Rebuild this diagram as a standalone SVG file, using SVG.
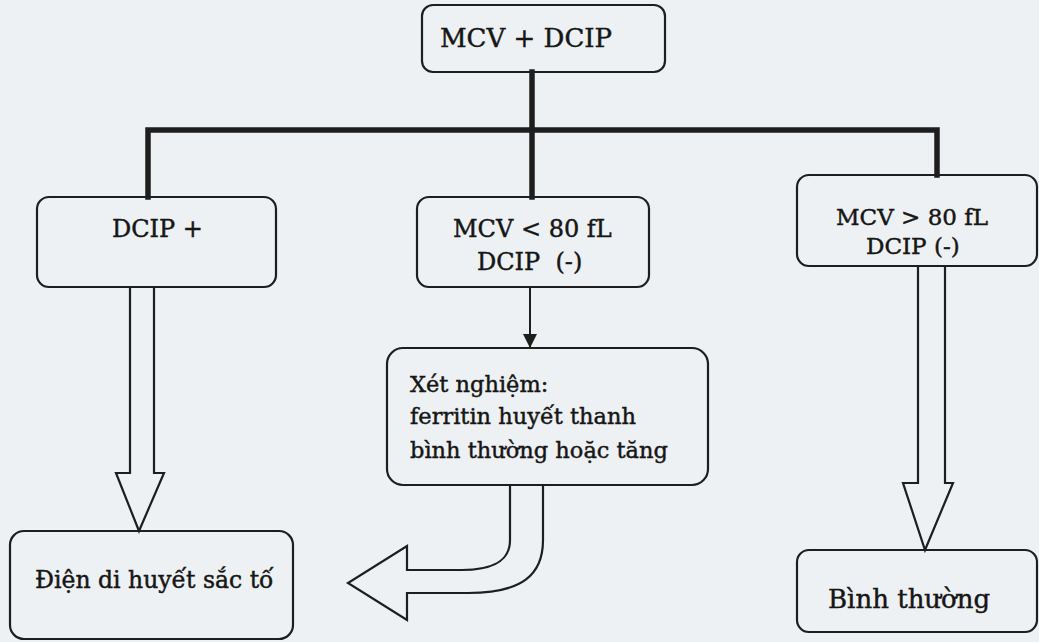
<svg xmlns="http://www.w3.org/2000/svg" width="1039" height="642" viewBox="0 0 1039 642">
<style>
.box{fill:none;stroke:#1e1e1e;stroke-width:2.2}
.t{font-family:"DejaVu Serif","Liberation Serif",serif;fill:#161616;stroke:#161616;stroke-width:0.45;white-space:pre}
.thick{fill:none;stroke:#1e1e1e;stroke-width:5.5;stroke-linecap:square}
.thin{fill:none;stroke:#1e1e1e;stroke-width:2}
.hollow{fill:none;stroke:#1e1e1e;stroke-width:2.2;stroke-linejoin:miter}
</style>
<defs>
<marker id="ah" viewBox="0 0 14 14" refX="14" refY="7" markerWidth="14" markerHeight="14" markerUnits="userSpaceOnUse" orient="auto">
<path d="M0,0 L14,7 L0,14 Z" fill="#1e1e1e"/>
</marker>
</defs>
<rect width="1039" height="642" fill="#eef1f3"/>

<g id="connectors">
<path class="thick" d="M532,72 V197"/>
<path class="thick" d="M148,197 V130 H937 V175"/>
<path class="thin" d="M530,287 V348" marker-end="url(#ah)"/>
<path class="hollow" d="M130,287 V473 H116 L139,531 L164,473 H154 V287"/>
<path class="hollow" d="M918,266 V483 H903 L925,550 L953,483 H945 V266"/>
<path class="hollow" d="M510,485 V540 C510,562 492,570 462,570 H407 V546 L348,583 L407,620 V593 H468 C522,593 543,575 543,540 V485"/>
</g>

<g id="n-start">
<rect class="box" x="422" y="5" width="243" height="67" rx="11"/>
<text class="t" x="440" y="47" font-size="26">MCV + DCIP</text>
</g>

<g id="n-dcip-pos">
<rect class="box" x="37" y="197" width="239" height="90" rx="12"/>
<text class="t" x="112" y="237" font-size="24">DCIP +</text>
</g>

<g id="n-mcv-low">
<rect class="box" x="417" y="197" width="232" height="90" rx="12"/>
<text class="t" x="453" y="237" font-size="24">MCV &lt; 80 fL</text>
<text class="t" x="477" y="270" font-size="24">DCIP  (-)</text>
</g>

<g id="n-mcv-high">
<rect class="box" x="797" y="175" width="240" height="91" rx="12"/>
<text class="t" x="836" y="225" font-size="23">MCV &gt; 80 fL</text>
<text class="t" x="866" y="254" font-size="23">DCIP (-)</text>
</g>

<g id="n-ferritin">
<rect class="box" x="387" y="348" width="321" height="137" rx="16"/>
<text class="t" x="410" y="392" font-size="22.5">Xét nghiệm:</text>
<text class="t" x="410" y="424" font-size="22.5">ferritin huyết thanh</text>
<text class="t" x="410" y="458" font-size="22.5">bình thường hoặc tăng</text>
</g>

<g id="n-dien-di">
<rect class="box" x="10" y="531" width="283" height="108" rx="14"/>
<text class="t" x="35" y="588" font-size="23.5">Điện di huyết sắc tố</text>
</g>

<g id="n-binh-thuong">
<rect class="box" x="797" y="550" width="240" height="82" rx="12"/>
<text class="t" x="828" y="608" font-size="26">Bình thường</text>
</g>
</svg>
